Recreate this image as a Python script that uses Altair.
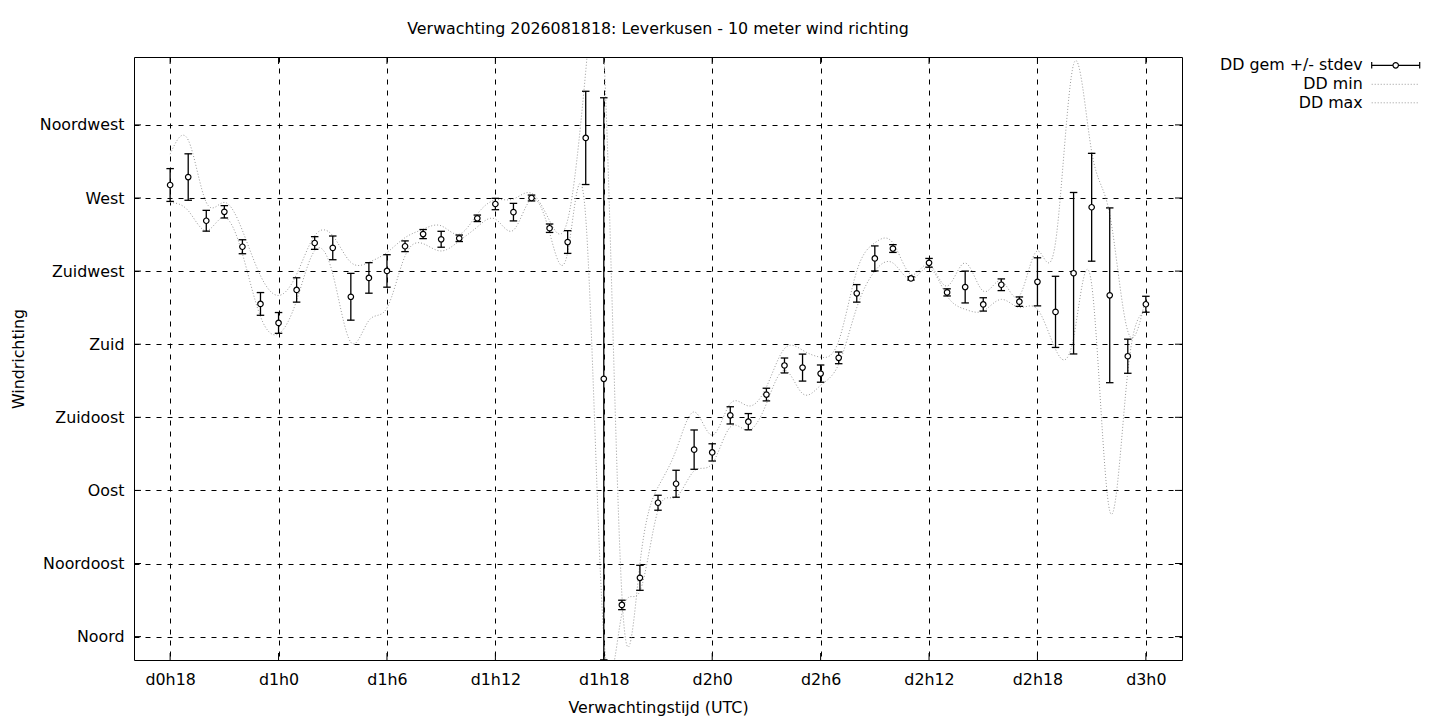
import altair as alt
import pandas as pd

# ---- data ----
hours = list(range(18, 73))
dd_mean = [278.0, 282.9, 256.0, 261.5, 240.0, 204.8, 193.1, 213.4, 242.3, 239.3,
           209.2, 220.8, 225.1, 240.3, 247.8, 244.6, 245.2, 257.5, 266.3, 261.3,
           270.0, 251.4, 242.9, 307.0, 158.7, 19.5, 36.2, 82.4, 94.1, 115.1,
           113.4, 136.2, 132.3, 149.0, 166.9, 165.6, 161.9, 171.6, 211.3, 232.8,
           238.9, 220.5, 230.1, 211.9, 215.2, 204.5, 216.6, 206.2, 218.4, 199.9,
           223.7, 264.3, 210.1, 172.6, 204.6]
dd_sd = [10.1, 14.3, 6.4, 3.8, 4.3, 7.0, 6.4, 7.5, 3.9, 7.3,
         14.4, 9.4, 10.0, 3.3, 2.8, 4.9, 2.0, 2.0, 3.5, 5.4,
         1.8, 2.6, 7.0, 28.7, 173.0, 2.9, 7.7, 4.6, 8.3, 12.1,
         5.3, 5.3, 5.0, 3.9, 4.6, 8.3, 5.3, 3.6, 5.4, 7.7,
         2.4, 1.0, 2.7, 2.2, 9.8, 4.1, 3.6, 2.9, 14.8, 21.9,
         49.7, 33.2, 53.8, 10.5, 4.9]
dd_min = [267.3, 262.2, 249.9, 258.1, 235.6, 197.0, 186.4, 206.9, 237.6, 223.3,
          181.2, 194.6, 202.3, 234.3, 241.9, 237.4, 243.6, 252.2, 257.0, 250.2,
          269.4, 248.7, 236.4, 258.0, 0.0, 14.0, 28.0, 77.7, 86.0, 102.0,
          106.5, 129.0, 127.0, 143.4, 164.0, 149.6, 154.7, 167.7, 202.5, 225.0,
          230.0, 219.9, 227.0, 209.7, 201.5, 200.5, 207.6, 202.6, 201.5, 176.9,
          184.0, 216.9, 77.4, 163.0, 200.0]
dd_max = [297.0, 305.7, 267.3, 267.3, 250.0, 222.2, 210.0, 223.0, 246.8, 246.8,
          230.4, 230.4, 236.5, 245.6, 250.8, 252.9, 247.7, 260.1, 268.8, 269.4,
          272.9, 256.0, 256.4, 348.0, 359.0, 26.0, 44.8, 92.0, 114.7, 138.3,
          124.0, 143.4, 142.0, 153.7, 177.3, 176.3, 172.0, 182.0, 225.0, 242.4,
          242.4, 223.0, 229.0, 215.8, 230.0, 212.7, 219.0, 209.7, 237.4, 242.6,
          352.3, 298.6, 260.0, 188.0, 209.0]

x_tick_values = [18, 24, 30, 36, 42, 48, 54, 60, 66, 72]
x_tick_labels = ["d0h18", "d1h0", "d1h6", "d1h12", "d1h18",
                 "d2h0", "d2h6", "d2h12", "d2h18", "d3h0"]
y_tick_values = [0, 45, 90, 135, 180, 225, 270, 315]
y_tick_labels = ["Noord", "Noordoost", "Oost", "Zuidoost",
                 "Zuid", "Zuidwest", "West", "Noordwest"]

title_text = "Verwachting 2026081818: Leverkusen - 10 meter wind richting"
legend_labels = ["DD gem +/- stdev", "DD min", "DD max"]

df = pd.DataFrame({"hour": hours, "dd_mean": dd_mean, "dd_sd": dd_sd,
                   "dd_min": dd_min, "dd_max": dd_max})
df["lo"] = df["dd_mean"] - df["dd_sd"]
df["hi"] = df["dd_mean"] + df["dd_sd"]
xt = pd.DataFrame({"v": x_tick_values})
yt = pd.DataFrame({"v": y_tick_values})


def label_expr(vals, labels):
    expr = "''"
    for v, l in reversed(list(zip(vals, labels))):
        expr = f"datum.value == {v} ? '{l}' : ({expr})"
    return expr


FONT = "DejaVu Sans"
FS = 15.85
GREY = "#9a9a9a"
W, H = 1048, 603
TIC = 7

x_scale = alt.Scale(domain=[16, 74], nice=False, zero=False)
y_scale = alt.Scale(domain=[-14.4, 356.8], nice=False, zero=False)

x_axis = alt.Axis(values=x_tick_values, labelExpr=label_expr(x_tick_values, x_tick_labels),
                  grid=True, gridColor="black", gridDash=[5, 6], gridWidth=1, gridOpacity=1,
                  ticks=False, tickSize=0, domain=False,
                  labelPadding=24.7, labelBaseline="alphabetic", labelFlush=False,
                  labelOverlap=False, labelFont=FONT, labelFontSize=FS, labelColor="black",
                  title="Verwachtingstijd (UTC)", titleFont=FONT, titleFontSize=FS,
                  titleFontWeight="normal", titleColor="black", titleX=W / 2, titleY=52.5,
                  titleBaseline="alphabetic", titleAlign="center")
y_axis = alt.Axis(values=y_tick_values, labelExpr=label_expr(y_tick_values, y_tick_labels),
                  grid=True, gridColor="black", gridDash=[5, 6], gridWidth=1, gridOpacity=1,
                  ticks=False, tickSize=0, domain=False,
                  labelPadding=10, labelFlush=False, labelOverlap=False,
                  labelFont=FONT, labelFontSize=FS, labelColor="black",
                  title="Windrichting", titleFont=FONT, titleFontSize=FS,
                  titleFontWeight="normal", titleColor="black", titleX=-110.3, titleY=H / 2,
                  titleAngle=270, titleBaseline="alphabetic", titleAlign="center")

base = alt.Chart(df)
X = alt.X("hour:Q", scale=x_scale, axis=x_axis)

min_line = base.mark_line(interpolate="natural", color=GREY, strokeDash=[1, 2],
                          strokeWidth=1, clip=True).encode(
    x=X, y=alt.Y("dd_min:Q", scale=y_scale, axis=y_axis))
max_line = base.mark_line(interpolate="natural", color=GREY, strokeDash=[1, 2],
                          strokeWidth=1, clip=True).encode(
    x="hour:Q", y="dd_max:Q")
bars = base.mark_rule(color="black", strokeWidth=1.3, clip=True).encode(
    x="hour:Q", y="lo:Q", y2="hi:Q")
cap_lo = base.mark_rule(color="black", strokeWidth=1.3, xOffset=-3.75, x2Offset=3.75,
                        clip=True).encode(x="hour:Q", x2="hour:Q", y="lo:Q")
cap_hi = base.mark_rule(color="black", strokeWidth=1.3, xOffset=-3.75, x2Offset=3.75,
                        clip=True).encode(x="hour:Q", x2="hour:Q", y="hi:Q")
points = base.mark_point(shape="circle", filled=True, fill="white", stroke="black",
                         strokeWidth=1.2, size=30, opacity=1, fillOpacity=1,
                         strokeOpacity=1).encode(x="hour:Q", y="dd_mean:Q")

# ---- gnuplot-style inward border tics (mirrored) ----
tics = [
    alt.Chart(yt).mark_rule(color="black", strokeWidth=1).encode(
        y="v:Q", x=alt.value(0), x2=alt.value(TIC)),
    alt.Chart(yt).mark_rule(color="black", strokeWidth=1).encode(
        y="v:Q", x=alt.value(W - TIC), x2=alt.value(W)),
    alt.Chart(xt).mark_rule(color="black", strokeWidth=1).encode(
        x="v:Q", y=alt.value(H - TIC), y2=alt.value(H)),
    alt.Chart(xt).mark_rule(color="black", strokeWidth=1).encode(
        x="v:Q", y=alt.value(0), y2=alt.value(TIC)),
]

# ---- gnuplot-style key (top right, outside the plot) ----
one = pd.DataFrame({"k": [0]})
LX_TEXT = 1228.7
LX0, LX1 = 1237.7, 1285.7
ROWS = [8.3, 27.3, 45.8]


def key_text(txt, yc):
    return alt.Chart(one).mark_text(align="right", baseline="middle", font=FONT,
                                    fontSize=FS, color="black", text=txt).encode(
        x=alt.value(LX_TEXT), y=alt.value(yc))


key = [key_text(legend_labels[i], ROWS[i]) for i in range(3)]
key.append(alt.Chart(one).mark_rule(color="black", strokeWidth=1.2).encode(
    x=alt.value(LX0), x2=alt.value(LX1), y=alt.value(ROWS[0])))
key.append(alt.Chart(one).mark_rule(color="black", strokeWidth=1.2).encode(
    x=alt.value(LX0), y=alt.value(ROWS[0] - 3.3), y2=alt.value(ROWS[0] + 3.3)))
key.append(alt.Chart(one).mark_rule(color="black", strokeWidth=1.2).encode(
    x=alt.value(LX1), y=alt.value(ROWS[0] - 3.3), y2=alt.value(ROWS[0] + 3.3)))
key.append(alt.Chart(one).mark_point(shape="circle", filled=True, fill="white",
                                     stroke="black", strokeWidth=1.2, size=30,
                                     opacity=1).encode(
    x=alt.value((LX0 + LX1) / 2), y=alt.value(ROWS[0])))
for yc in ROWS[1:]:
    key.append(alt.Chart(one).mark_rule(color=GREY, strokeWidth=1, strokeDash=[1, 2]).encode(
        x=alt.value(LX0), x2=alt.value(LX1 - 2), y=alt.value(yc)))

chart = alt.layer(min_line, max_line, *tics, bars, cap_lo, cap_hi, points, *key).properties(
    width=W, height=H,
    background="white",
    title=alt.TitleParams(text=title_text, font=FONT, fontSize=FS, fontWeight="normal",
                          color="black", anchor="middle", baseline="alphabetic", offset=6.2),
    padding={"left": 126, "top": 49, "right": 250, "bottom": 58},
    autosize=alt.AutoSizeParams(type="none"),
).configure_view(stroke="black", strokeWidth=1)

chart.save("out.html", embed_options={"renderer": "svg", "actions": False})
